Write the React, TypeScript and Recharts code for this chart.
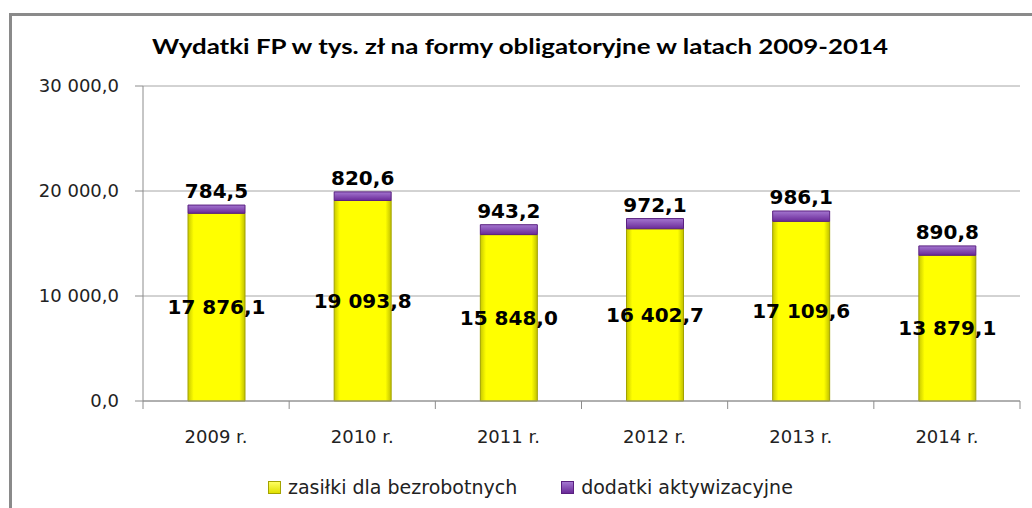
import { Bar, BarChart, CartesianGrid, LabelList, XAxis, YAxis } from "recharts"

const years = ["2009 r.", "2010 r.", "2011 r.", "2012 r.", "2013 r.", "2014 r."]
const zasilki = [17876.1, 19093.8, 15848.0, 16402.7, 17109.6, 13879.1]
const dodatki = [784.5, 820.6, 943.2, 972.1, 986.1, 890.8]
const yTicks = [0, 10000, 20000, 30000]
const seriesNames = ["zasiłki dla bezrobotnych", "dodatki aktywizacyjne"]
const title = "Wydatki FP w tys. zł na formy obligatoryjne w latach 2009-2014"

const data = years.map((year, i) => ({ year, zasilki: zasilki[i], dodatki: dodatki[i] }))

const fmt = (v: any) => {
  const [int, dec] = Number(v).toFixed(1).split(".")
  return int.replace(/\B(?=(\d{3})+(?!\d))/g, " ") + "," + dec
}

const labelFont = { fontFamily: "DejaVu Sans", fontWeight: "bold", fontSize: 20, fill: "#000" } as any
const tickFont = { fontFamily: "DejaVu Sans", fontSize: 18, fill: "#222" }
const TICK_GAP = 29

// centre label drawn as plain text so it can spill past the bar edges
const CenterLabel = (props: any) => {
  const { x, y, width, height, value } = props
  return (
    <text x={x + width / 2} y={y + height / 2} dy="0.36em" textAnchor="middle" style={labelFont}>
      {fmt(value)}
    </text>
  )
}

// category tick with the tick mark on the boundary between categories, like Excel
const YearTick = (props: any) => {
  const { x, y, payload, index, visibleTicksCount } = props
  const half = payload.offset ?? 73
  const axisY = y - TICK_GAP
  return (
    <g>
      <line x1={x - half} x2={x - half} y1={axisY} y2={axisY + 8} stroke="#8c8c8c" />
      {index === visibleTicksCount - 1 && <line x1={x + half} x2={x + half} y1={axisY} y2={axisY + 8} stroke="#8c8c8c" />}
      <text x={x} y={y} dy="0.71em" textAnchor="middle" style={tickFont}>
        {payload.value}
      </text>
    </g>
  )
}

export default function App() {
  return (
    <div style={{ position: "absolute", left: 0, top: 0, width: 1032, height: 508, overflow: "hidden", background: "#fff" }}>
      <div
        style={{
          position: "absolute",
          left: 9,
          top: 13,
          width: 1100,
          height: 600,
          borderLeft: "3px solid #8a8a8a",
          borderTop: "3px solid #8a8a8a",
        }}
      />
      <svg width={1032} height={80} style={{ position: "absolute", left: 0, top: 0 }}>
        <text
          x={152}
          y={54}
          textLength={736}
          lengthAdjust="spacingAndGlyphs"
          style={{ fontFamily: "Lato", fontWeight: "bold", fontSize: 20, fill: "#000" }}
        >
          {title}
        </text>
      </svg>
      <div style={{ position: "absolute", left: 0, top: 0 }}>
        <BarChart width={1032} height={508} data={data} margin={{ top: 86, right: 12, left: 0, bottom: 0 }}>
          <defs>
            <linearGradient id="yel" x1="0" y1="0" x2="1" y2="0">
              <stop offset="0%" stopColor="#c9c900" />
              <stop offset="10%" stopColor="#ffff00" />
              <stop offset="90%" stopColor="#ffff00" />
              <stop offset="100%" stopColor="#c0c000" />
            </linearGradient>
            <linearGradient id="pur" x1="0" y1="0" x2="0" y2="1">
              <stop offset="0%" stopColor="#a476d0" />
              <stop offset="100%" stopColor="#6a2a98" />
            </linearGradient>
          </defs>
          <CartesianGrid vertical={false} stroke="#a6a6a6" />
          <XAxis
            dataKey="year"
            stroke="#8c8c8c"
            tickLine={false}
            tickSize={0}
            tickMargin={TICK_GAP}
            height={107}
            tick={<YearTick />}
            interval={0}
          />
          <YAxis
            domain={[0, 30000]}
            ticks={yTicks}
            width={143}
            tickSize={8}
            tickMargin={16}
            stroke="#8c8c8c"
            tickFormatter={fmt}
            tick={tickFont}
          />
          <Bar dataKey="zasilki" name={seriesNames[0]} stackId="a" barSize={57} fill="url(#yel)" stroke="#a3a300" isAnimationActive={false}>
            <LabelList dataKey="zasilki" content={CenterLabel} />
          </Bar>
          <Bar dataKey="dodatki" name={seriesNames[1]} stackId="a" barSize={57} fill="url(#pur)" stroke="#5a2080" isAnimationActive={false}>
            <LabelList dataKey="dodatki" position="top" offset={7} formatter={fmt} style={labelFont} />
          </Bar>
        </BarChart>
      </div>
      <div style={{ position: "absolute", top: 476, left: 268, display: "flex", alignItems: "center", fontFamily: "DejaVu Sans", fontSize: 19, color: "#222" }}>
        <span style={{ width: 11, height: 11, background: "linear-gradient(#ffff60,#e0e000)", border: "1px solid #a3a300", marginRight: 7 }} />
        <span style={{ marginRight: 44 }}>{seriesNames[0]}</span>
        <span style={{ width: 11, height: 11, background: "linear-gradient(#a476d0,#6a2a98)", border: "1px solid #5a2080", marginRight: 7 }} />
        <span>{seriesNames[1]}</span>
      </div>
    </div>
  )
}
